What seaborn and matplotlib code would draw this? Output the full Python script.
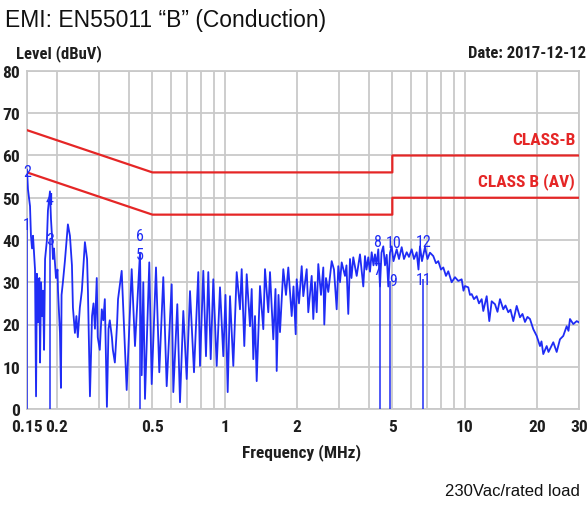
import matplotlib
matplotlib.use("Agg")
import matplotlib.pyplot as plt
import seaborn as sns
import pandas as pd
from matplotlib import font_manager as fm
from matplotlib.transforms import offset_copy
from matplotlib.ticker import FixedLocator, FixedFormatter, NullFormatter

# ---------------- data ----------------
trace_freq_mhz = [
    0.1500, 0.1514, 0.1544, 0.1558, 0.1574, 0.1589, 0.1620, 0.1636, 0.1650, 0.1666,
    0.1674, 0.1690, 0.1700, 0.1717, 0.1733, 0.1750, 0.1767, 0.1784, 0.1816, 0.1834,
    0.1870, 0.1888, 0.1906, 0.1924, 0.1943, 0.1981, 0.2010, 0.2020, 0.2058, 0.2078,
    0.2090, 0.2117, 0.2158, 0.2200, 0.2221, 0.2265, 0.2309, 0.2331, 0.2376, 0.2410,
    0.2443, 0.2491, 0.2540, 0.2580, 0.2615, 0.2670, 0.2692, 0.2745, 0.2800, 0.2840,
    0.2880, 0.2930, 0.2958, 0.3016, 0.3075, 0.3120, 0.3166, 0.3230, 0.3280, 0.3320,
    0.3388, 0.3420, 0.3486, 0.3560, 0.3594,
    0.3722, 0.3905, 0.4097, 0.4229, 0.4437, 0.4510, 0.4580, 0.4655, 0.4851, 0.4965,
    0.5174, 0.5340, 0.5549, 0.5733, 0.6015, 0.6109, 0.6348, 0.6514, 0.6724, 0.6947,
    0.7171, 0.7451, 0.7765, 0.7893, 0.8147, 0.8360, 0.8547, 0.8747, 0.8967, 0.9265,
    0.9563, 0.9871, 1.008, 1.0296, 1.0527, 1.0866, 1.1226, 1.1587, 1.1778, 1.2075,
    1.2357, 1.2755, 1.2963, 1.3164, 1.3381, 1.3601, 1.4039, 1.4491, 1.4729, 1.5203,
    1.5453, 1.5950, 1.6291, 1.6480, 1.6767, 1.7010, 1.7557, 1.8018, 1.8421, 1.9031,
    1.9363, 1.9776, 1.9967, 2.0413, 2.0949, 2.1272, 2.1979, 2.2317, 2.3057, 2.3415,
    2.3800, 2.4191, 2.4566, 2.5211, 2.5774, 2.6022, 2.6450, 2.7041, 2.7937, 2.8562,
    2.9310, 2.9765, 3.0254, 3.0751, 3.1741, 3.2199, 3.2760, 3.3303, 3.3782, 3.4372,
    3.5514, 3.6657, 3.7836, 3.8458, 3.9015, 3.9696, 4.0349, 4.1012, 4.1728, 4.2333,
    4.2947, 4.3696, 4.4414, 4.5059, 4.5845, 4.6598, 4.7364, 4.8094, 4.8890, 4.9693,
    5.0560, 5.2137, 5.3302, 5.4700, 5.5917, 5.7390, 5.8666, 6.0206, 6.1551, 6.3166,
    6.4268, 6.5200, 6.6464, 6.8406, 7.0068, 7.1769, 7.4082, 7.6025, 7.7724, 7.9764,
    8.1546, 8.3685, 8.5556, 8.8391, 9.1229, 9.4167, 9.7288, 9.8985, 10.042, 10.365,
    10.536, 10.709, 10.948, 11.236, 11.487, 11.788, 11.971, 12.368, 12.681, 12.976,
    13.394, 13.719, 14.052, 14.505, 14.814, 15.218, 15.543, 15.965, 16.496, 17.025,
    17.439, 17.863, 18.297, 18.741, 19.345, 19.986, 20.629, 20.928, 21.292, 21.999,
    22.383, 22.708, 23.437, 24.216, 24.993, 25.798, 26.653, 27.119, 27.512, 28.398,
    29.340, 30.0,
]
trace_level_dbuv = [
    56.7, 52.0, 48.0, 41.0, 38.0, 41.0, 33.0, 3.0, 32.0, 20.5,
    30.0, 31.0, 11.0, 30.0, 22.0, 28.0, 14.0, 35.5, 40.0, 47.0,
    51.5, 45.0, 41.0, 35.5, 38.0, 31.0, 33.0, 28.0, 18.0, 5.0,
    27.0, 30.0, 35.0, 41.0, 43.7, 41.0, 34.0, 24.0, 18.0, 22.0,
    17.0, 24.0, 28.0, 34.0, 39.5, 35.5, 28.0, 3.0, 22.0, 25.0,
    19.0, 31.0, 17.0, 14.0, 23.6, 21.0, 26.0, 0.5, 19.0, 21.0,
    17.0, 14.0, 11.0, 20.0, 26.0,
    32.7, 4.5, 33.1, 14.9, 37.0, 8.0, 30.0, 2.4, 34.7, 5.9,
    33.5, 8.7, 31.2, 5.4, 29.5, 4.0, 24.8, 1.6, 23.2, 7.1,
    27.9, 8.7, 32.4, 10.2, 32.7, 12.5, 32.4, 11.8, 30.7, 10.2,
    28.8, 12.5, 27.0, 4.0, 26.7, 10.2, 32.4, 23.6, 33.1, 14.9,
    31.9, 19.6, 28.4, 11.8, 22.0, 6.6, 29.1, 18.9, 33.1, 22.9,
    32.4, 16.5, 28.4, 9.0, 27.0, 18.2, 33.1, 27.0, 33.5, 22.0,
    29.0, 17.7, 30.7, 25.0, 33.8, 26.7, 33.1, 22.9, 31.5, 21.3,
    30.0, 22.9, 34.3, 27.0, 33.5, 20.0, 31.0, 27.7, 35.0, 33.0,
    23.6, 33.8, 30.0, 34.7, 31.5, 34.0, 22.5, 35.5, 31.0, 35.9,
    31.5, 36.6, 29.0, 36.2, 33.0, 35.9, 32.5, 37.1, 34.0, 36.6,
    34.0, 37.8, 29.0, 37.0, 38.5, 34.0, 36.5, 29.0, 37.0, 38.5,
    35.0, 37.8, 35.5, 38.3, 35.5, 37.1, 36.0, 37.8, 35.5, 37.1,
    33.0, 38.5, 35.0, 38.3, 35.5, 37.0, 36.2, 34.5, 35.0, 33.0,
    33.5, 31.5, 32.6, 30.0, 31.2, 30.3, 30.7, 28.0, 29.1, 28.8,
    27.0, 27.2, 26.0, 26.7, 25.0, 26.0, 23.2, 26.7, 20.8, 25.5,
    24.8, 23.0, 26.0, 23.6, 24.5, 22.9, 23.5, 20.8, 24.4, 21.7,
    22.5, 20.6, 21.8, 21.3, 18.9, 17.3, 14.9, 16.0, 13.0, 14.9,
    13.5, 14.2, 15.8, 13.5, 16.5, 17.3, 19.6, 18.5, 21.3, 20.1,
    20.8, 20.5,
]

# EN55011 class B limits (QP and AV)
limit_freq_mhz = [0.15, 0.5, 5.0, 5.0, 30.0]
limit_qp_dbuv = [66.0, 56.0, 56.0, 60.0, 60.0]
limit_av_dbuv = [56.0, 46.0, 46.0, 50.0, 50.0]

# markers (odd = AV reading, even = QP reading)
marker_ids = ["1", "2", "3", "4", "5", "6", "7", "8", "9", "10", "11", "12"]
marker_freq_mhz = [0.150, 0.150, 0.187, 0.187, 0.444, 0.444, 4.44, 4.44, 4.87, 4.87, 6.74, 6.74]
marker_level_dbuv = [43.7, 56.3, 40.2, 49.6, 36.6, 41.1, 33.1, 39.7, 30.3, 39.5, 30.7, 39.7]

x_major_ticks = [0.15, 0.2, 0.5, 1, 2, 5, 10, 20, 30]
x_major_labels = ["0.15", "0.2", "0.5", "1", "2", "5", "10", "20", "30"]
x_minor_ticks = [0.3, 0.4, 0.6, 0.7, 0.8, 0.9, 3, 4, 6, 7, 8, 9]
y_ticks = [0, 10, 20, 30, 40, 50, 60, 70, 80]

# ---------------- fonts ----------------
def pick(names, fallback):
    for name in names:
        try:
            fm.findfont(fm.FontProperties(family=name), fallback_to_default=False)
            return name
        except Exception:
            pass
    return fallback

NARROW = pick(["Liberation Sans Narrow", "Roboto Condensed", "DejaVu Sans Condensed",
               "Open Sans Condensed", "Roboto"], "DejaVu Sans")
ARIAL = pick(["Liberation Sans", "Arial"], "DejaVu Sans")
STRETCH = "condensed"

sns.set_theme(style="white")
plt.rcParams["font.family"] = [ARIAL, "DejaVu Sans"]

BLUE = "#1f2cf5"
RED = "#e52626"
GRID = "#c9c9c9"
DARK = "#1e1e1e"

fig = plt.figure(figsize=(5.88, 5.06), dpi=100)
ax = fig.add_axes([27 / 588, 96 / 506, 552 / 588, 338 / 506])

trace_df = pd.DataFrame({"freq": trace_freq_mhz, "level": trace_level_dbuv})
limit_df = pd.DataFrame({"freq": limit_freq_mhz, "qp": limit_qp_dbuv, "av": limit_av_dbuv})

sns.lineplot(data=limit_df, x="freq", y="qp", ax=ax, color=RED, lw=1.6,
             estimator=None, sort=False, zorder=3)
sns.lineplot(data=limit_df, x="freq", y="av", ax=ax, color=RED, lw=1.6,
             estimator=None, sort=False, zorder=3)
sns.lineplot(data=trace_df, x="freq", y="level", ax=ax, color=BLUE, lw=1.3,
             estimator=None, sort=False, zorder=4)

ax.set_xscale("log")
ax.set_xlim(0.15, 30)
ax.set_ylim(0, 80)

# marker lines and labels (labels 7/8 nudged left, 9/10 nudged right so they just touch)
ax.vlines(marker_freq_mhz[0::2], 0, marker_level_dbuv[0::2], color=BLUE, lw=1.1, zorder=4)
nudge_px = {"7": -3, "8": -3, "9": 4, "10": 4}
for mid, f, lv in zip(marker_ids, marker_freq_mhz, marker_level_dbuv):
    tr = offset_copy(ax.transData, fig=fig, x=nudge_px.get(mid, 0), y=0, units="dots")
    ax.text(f, lv, mid, color=BLUE, fontsize=11.5, family=NARROW, fontstretch=STRETCH,
            ha="center", va="center", zorder=5, transform=tr)

# grid
ax.xaxis.set_major_locator(FixedLocator(x_major_ticks))
ax.xaxis.set_major_formatter(FixedFormatter(x_major_labels))
ax.xaxis.set_minor_locator(FixedLocator(x_minor_ticks))
ax.xaxis.set_minor_formatter(NullFormatter())
ax.yaxis.set_major_locator(FixedLocator(y_ticks))
ax.grid(True, which="both", color=GRID, lw=1.3, zorder=0)
ax.set_axisbelow(True)
for s in ax.spines.values():
    s.set_color(GRID)
    s.set_linewidth(1.3)
ax.tick_params(axis="both", which="both", length=0)
ax.tick_params(axis="x", pad=7)
ax.tick_params(axis="y", pad=5)
for lab in ax.get_xticklabels() + ax.get_yticklabels():
    lab.set_family(NARROW)
    lab.set_fontstretch(STRETCH)
    lab.set_fontsize(12.5)
    lab.set_fontweight("bold")
    lab.set_color(DARK)

ax.set_xlabel("")
ax.set_ylabel("")

# limit labels
ax.text(0.993, 63.8, "CLASS-B", transform=ax.get_yaxis_transform(), ha="right", va="center",
        color=RED, fontsize=12.5, fontweight="bold", family=NARROW, fontstretch=STRETCH)
ax.text(0.993, 54.0, "CLASS B (AV)", transform=ax.get_yaxis_transform(), ha="right", va="center",
        color=RED, fontsize=12.5, fontweight="bold", family=NARROW, fontstretch=STRETCH)

# figure texts
fig.text(5 / 588, 1 - 20 / 506, "EMI: EN55011 \u201cB\u201d (Conduction)", ha="left", va="center",
         fontsize=16.5, color="#111111", family=ARIAL)
fig.text(16 / 588, 1 - 54 / 506, "Level (dBuV)", ha="left", va="center", fontsize=12,
         fontweight="bold", color=DARK, family=NARROW, fontstretch=STRETCH)
fig.text(586 / 588, 1 - 54 / 506, "Date: 2017-12-12", ha="right", va="center", fontsize=12,
         fontweight="bold", color=DARK, family=NARROW, fontstretch=STRETCH)
fig.text(302 / 588, 1 - 453 / 506, "Frequency (MHz)", ha="center", va="center", fontsize=12.5,
         fontweight="bold", color=DARK, family=NARROW, fontstretch=STRETCH)
fig.text(580 / 588, 1 - 492 / 506, "230Vac/rated load", ha="right", va="center", fontsize=12,
         color="#111111", family=ARIAL)

fig.savefig("out.png", dpi=100)
